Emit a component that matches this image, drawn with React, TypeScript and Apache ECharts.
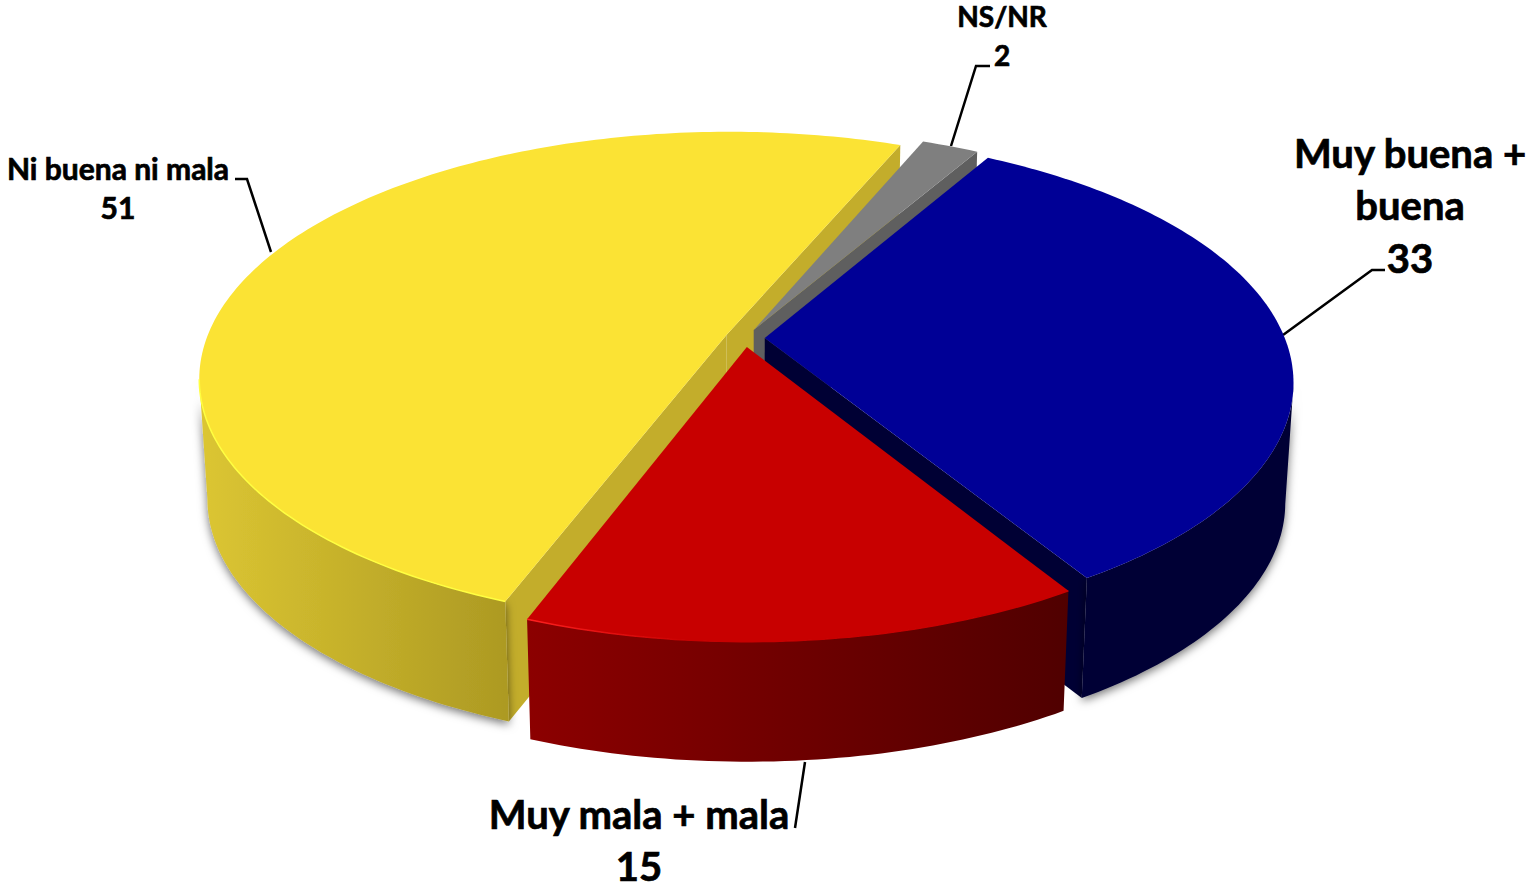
import React, { useEffect, useRef } from "react";
import * as echarts from "echarts";

const categories = ["Muy buena + buena", "Muy mala + mala", "Ni buena ni mala", "NS/NR"];
// unrounded shares as the slices show them; the labels print them rounded
const values = [33.3, 14.6, 51.1, 2.1];
const drawOrder = [2, 3, 0, 1];
const topColors = ["#000096", "#c80000", "#fbe334", "#7f7f7f"];
const cutColors = ["#000034", "#5a0000", "#c3ad2b", "#5f5f5f"];
const wallLeft = ["#000034", "#8c0000", "#dcc632", "#7f7f7f"];
const wallRight = ["#000034", "#500000", "#ad9a23", "#5f5f5f"];
const rimLeft = ["", "#ff2020", "#ffff40", ""];
const rimRight = ["", "#c80000", "#ffff40", ""];

const START_DEG = 30;
const CX = 745, CY = 338, SX = 520, SY = 239.5, K = 0.175;
const DEPTH = 120, BOTTOM_SCALE = 0.985, EXPLODE = 0.038;
const total = values.reduce((a, b) => a + b, 0);

const project = (u: number, v: number) => {
  const w = 1 - K * v;
  return [CX + (SX * u) / w, CY + (SY * v) / w];
};
const lower = (p: number[]) => [CX + (p[0] - CX) * BOTTOM_SCALE, p[1] + DEPTH];

function renderSlice(params: any, api: any) {
  const idx = api.value(1) as number;
  const before = values.slice(0, idx).reduce((a, b) => a + b, 0);
  const a0 = ((START_DEG + (before / total) * 360) * Math.PI) / 180;
  const a1 = ((START_DEG + ((before + (api.value(0) as number)) / total) * 360) * Math.PI) / 180;
  const mid = (a0 + a1) / 2;
  const ou = EXPLODE * Math.sin(mid), ov = -EXPLODE * Math.cos(mid);
  const apex = project(ou, ov);
  const steps = Math.max(6, Math.round(((a1 - a0) * 180) / Math.PI));
  const arc: number[][] = [];
  for (let i = 0; i <= steps; i++) {
    const a = a0 + ((a1 - a0) * i) / steps;
    arc.push(project(ou + Math.sin(a), ov - Math.cos(a)));
  }
  const first = arc[0], last = arc[arc.length - 1];
  const children: any[] = [];

  // cut faces that look towards the viewer
  if (Math.sin(a1) > 0) {
    children.push({
      type: "polygon",
      shape: { points: [apex, last, lower(last), lower(apex)] },
      style: { fill: cutColors[idx] },
    });
  }
  if (Math.sin(a0) < 0) {
    children.push({
      type: "polygon",
      shape: { points: [apex, first, lower(first), lower(apex)] },
      style: { fill: cutColors[idx] },
    });
  }

  // outer wall: the run of the arc where x falls going clockwise is the front
  const front = arc.filter(
    (p, i) => (i < arc.length - 1 && arc[i + 1][0] < p[0]) || (i > 0 && p[0] < arc[i - 1][0])
  );
  if (front.length > 1) {
    const fx = front.map((p) => p[0]);
    const x0 = Math.min(...fx), x1 = Math.max(...fx);
    const hasShadow = idx === 0 || idx === 2;
    const fill = new echarts.graphic.LinearGradient(
      x0, 0, x1, 0,
      [{ offset: 0, color: wallLeft[idx] }, { offset: 1, color: wallRight[idx] }],
      true
    );
    children.push({
      type: "polygon",
      shape: { points: front.concat(front.map(lower).reverse()) },
      style: hasShadow
        ? { fill, shadowBlur: 10, shadowColor: "rgba(0,0,0,0.55)", shadowOffsetX: 0, shadowOffsetY: 3 }
        : { fill },
    });
    children.push({
      type: "polygon",
      shape: { points: [apex, ...arc] },
      style: { fill: topColors[idx] },
    });
    if (rimLeft[idx]) {
      children.push({
        type: "polyline",
        shape: { points: front },
        style: {
          fill: "none",
          lineWidth: 1.5,
          stroke: new echarts.graphic.LinearGradient(
            x0, 0, x1, 0,
            [{ offset: 0, color: rimLeft[idx] }, { offset: 0.3, color: rimRight[idx] }, { offset: 1, color: rimRight[idx] }],
            true
          ),
        },
      });
    }
  } else {
    children.push({
      type: "polygon",
      shape: { points: [apex, ...arc] },
      style: { fill: topColors[idx] },
    });
  }
  return { type: "group", children };
}

const FONT = "Lato, 'Open Sans', sans-serif";
const label = (x: number, ys: number[], lines: string[], size: number) =>
  lines.map((text, i) => ({
    type: "text",
    x,
    y: ys[i],
    style: {
      text,
      fontFamily: FONT,
      fontWeight: "bold",
      fontSize: size,
      lineHeight: Math.round(size * 0.85),
      fill: "#000",
      stroke: "#000",
      lineWidth: 0.7,
      align: "center",
      verticalAlign: "middle",
    },
  }));
const leader = (points: number[][]) => ({
  type: "polyline",
  shape: { points },
  style: { fill: "none", stroke: "#000", lineWidth: 2.5 },
});

export default function App() {
  const ref = useRef<HTMLDivElement>(null);
  useEffect(() => {
    const chart = echarts.init(ref.current!, undefined, { renderer: "svg" });
    const shown = values.map((v) => String(Math.round(v)));
    chart.setOption({
      animation: false,
      backgroundColor: "#fff",
      series: [
        {
          type: "custom",
          coordinateSystem: "none",
          renderItem: renderSlice,
          clip: false,
          silent: true,
          data: drawOrder.map((i) => ({ name: categories[i], value: [values[i], i] })),
        },
      ],
      graphic: {
        elements: [
          leader([[235, 179], [247, 179], [271, 252]]),
          leader([[990, 66], [976, 66], [951, 146]]),
          leader([[1385, 270], [1372, 270], [1283, 335]]),
          leader([[795, 828], [805, 762]]),
          ...label(118, [168, 207], [categories[2], shown[2]], 30),
          ...label(1002, [16, 55], [categories[3], shown[3]], 28),
          ...label(1410, [153, 205, 258], ["Muy buena +", "buena", shown[0]], 40),
          ...label(639, [814, 866], [categories[1], shown[1]], 40),
        ],
      },
    });
    return () => chart.dispose();
  }, []);
  return <div ref={ref} style={{ position: "fixed", left: 0, top: 0, width: 1526, height: 884 }} />;
}
